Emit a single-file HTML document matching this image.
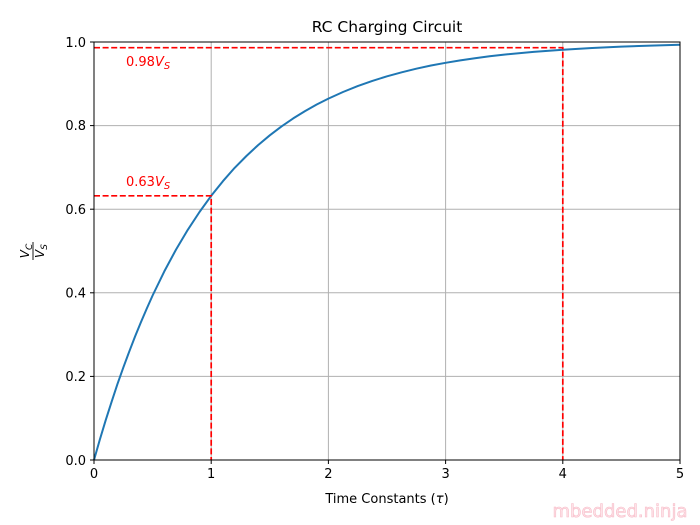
<!DOCTYPE html>
<html><head><style>body{margin:0;background:#fff}svg{display:block}text{font-family:"DejaVu Sans","Liberation Sans",sans-serif}</style></head><body>
<svg width="700" height="525" viewBox="0 0 700 525">
<g stroke="#b0b0b0" stroke-width="1">
<line x1="94" y1="42" x2="94" y2="460"/><line x1="211.2" y1="42" x2="211.2" y2="460"/><line x1="328.4" y1="42" x2="328.4" y2="460"/><line x1="445.6" y1="42" x2="445.6" y2="460"/><line x1="562.8" y1="42" x2="562.8" y2="460"/><line x1="680" y1="42" x2="680" y2="460"/>
<line x1="94" y1="460" x2="680" y2="460"/><line x1="94" y1="376.4" x2="680" y2="376.4"/><line x1="94" y1="292.8" x2="680" y2="292.8"/><line x1="94" y1="209.2" x2="680" y2="209.2"/><line x1="94" y1="125.6" x2="680" y2="125.6"/><line x1="94" y1="42" x2="680" y2="42"/>
</g>
<polyline fill="none" stroke="#1f77b4" stroke-width="2" stroke-linejoin="round" points="94,460 99.9,439.4 105.7,420.2 111.6,401.8 117.4,384.2 123.3,367.6 129.2,351.7 135,336.6 140.9,322.2 146.8,308.5 152.6,295.5 164.3,271.4 176,249.6 187.8,229.8 199.5,212 211.2,195.8 222.9,181.2 234.6,167.9 246.4,156 258.1,145.1 269.8,135.3 281.5,126.4 293.2,118.4 305,111.1 316.7,104.5 328.4,98.6 343,92 357.7,86.1 372.3,80.9 387,76.3 401.7,72.3 416.3,68.7 431,65.5 445.6,62.8 460.3,60.4 474.9,58.3 489.6,56.3 504.2,54.6 533.5,51.9 562.8,49.7 592.1,48 621.4,46.6 650.7,45.6 680,44.8"/>
<g stroke="#ff0000" stroke-width="1.7" stroke-dasharray="6,2.6" fill="none">
<polyline points="94,195.8 211.2,195.8 211.2,460"/>
<polyline points="94,47.7 562.8,47.7 562.8,460"/>
</g>
<rect x="94" y="42" width="586" height="418" fill="none" stroke="#000" stroke-width="1"/>
<g stroke="#000" stroke-width="1">
<line x1="94" y1="460" x2="94" y2="464"/><line x1="211.2" y1="460" x2="211.2" y2="464"/><line x1="328.4" y1="460" x2="328.4" y2="464"/><line x1="445.6" y1="460" x2="445.6" y2="464"/><line x1="562.8" y1="460" x2="562.8" y2="464"/><line x1="680" y1="460" x2="680" y2="464"/>
<line x1="90" y1="460" x2="94" y2="460"/><line x1="90" y1="376.4" x2="94" y2="376.4"/><line x1="90" y1="292.8" x2="94" y2="292.8"/><line x1="90" y1="209.2" x2="94" y2="209.2"/><line x1="90" y1="125.6" x2="94" y2="125.6"/><line x1="90" y1="42" x2="94" y2="42"/>
</g>
<g font-size="13" text-anchor="middle">
<text x="94" y="478">0</text><text x="211.2" y="478">1</text><text x="328.4" y="478">2</text><text x="445.6" y="478">3</text><text x="562.8" y="478">4</text><text x="680" y="478">5</text>
</g>
<g font-size="13" text-anchor="end">
<text x="86" y="465">0.0</text><text x="86" y="381">0.2</text><text x="86" y="297.5">0.4</text><text x="86" y="214">0.6</text><text x="86" y="130">0.8</text><text x="86" y="47">1.0</text>
</g>
<text x="387" y="32" font-size="15.5" text-anchor="middle">RC Charging Circuit</text>
<text x="387" y="503" font-size="13" text-anchor="middle">Time Constants (<tspan font-style="italic">τ</tspan>)</text>
<g transform="translate(33,251) rotate(-90)" font-size="12" font-style="italic" text-anchor="middle">
<text x="0" y="-4">V<tspan font-size="9" dy="3">C</tspan></text>
<line x1="-9" y1="0" x2="9" y2="0" stroke="#000" stroke-width="0.9"/>
<text x="0" y="11">V<tspan font-size="9" dy="3">S</tspan></text>
</g>
<text x="126" y="186" font-size="13" fill="#ff0000">0.63<tspan font-style="italic">V</tspan><tspan font-size="10" font-style="italic" dy="3">S</tspan></text>
<text x="126" y="66" font-size="13" fill="#ff0000">0.98<tspan font-style="italic">V</tspan><tspan font-size="10" font-style="italic" dy="3">S</tspan></text>
<text x="620" y="517" font-size="18" text-anchor="middle" fill="#fde4e9" stroke="#f8bcc8" stroke-width="0.6">mbedded.ninja</text>
</svg>
</body></html>
